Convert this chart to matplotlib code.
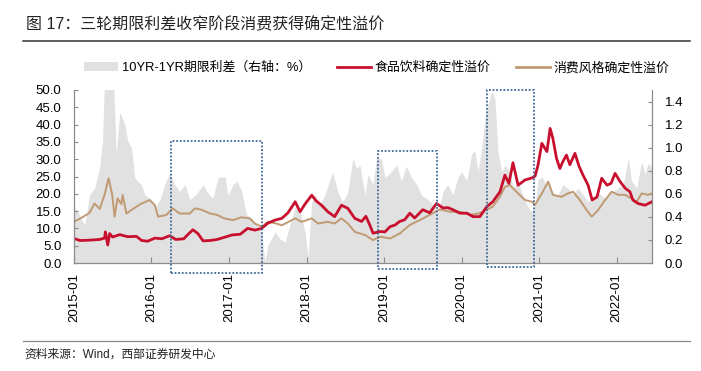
import numpy as np
import pandas as pd
import matplotlib
matplotlib.use("Agg")
import matplotlib.pyplot as plt
import matplotlib.dates as mdates
from matplotlib.patches import Patch, Rectangle
from matplotlib.lines import Line2D

plt.rcParams["font.family"] = ["Liberation Sans", "Noto Sans CJK SC"]

# ---------- dati ----------
title = "图 17：三轮期限利差收窄阶段消费获得确定性溢价"
source = "资料来源：Wind，西部证券研发中心"
lab_spread = "10YR-1YR期限利差（右轴：%）"
lab_food = "食品饮料确定性溢价"
lab_cons = "消费风格确定性溢价"

food_dates = ["2015-01-01","2015-01-29","2015-03-15","2015-05-02","2015-05-25","2015-05-29","2015-06-09",
    "2015-06-18","2015-07-02","2015-08-04","2015-09-11","2015-10-22","2015-11-16","2015-12-14",
    "2016-01-17","2016-02-19","2016-03-27","2016-04-24","2016-06-01","2016-06-25","2016-07-14",
    "2016-08-07","2016-08-31","2016-10-03","2016-11-05","2016-12-08",
    "2017-01-14","2017-02-22","2017-03-29","2017-05-02","2017-06-03","2017-07-02","2017-08-05",
    "2017-09-06","2017-10-05","2017-11-08","2017-12-01","2017-12-24",
    "2018-01-25","2018-02-14","2018-03-12","2018-04-11","2018-05-13","2018-06-14","2018-07-14",
    "2018-08-16","2018-09-17","2018-10-07","2018-10-26","2018-11-10","2018-12-12",
    "2019-01-05","2019-01-29","2019-02-22","2019-03-15","2019-04-08","2019-05-02","2019-05-25",
    "2019-07-02","2019-08-04","2019-09-05","2019-10-05","2019-10-28","2019-11-21","2019-12-24",
    "2020-01-26","2020-02-24","2020-03-27","2020-04-29","2020-05-27","2020-06-30","2020-07-23",
    "2020-08-11","2020-08-30","2020-09-23","2020-10-26","2020-11-28","2020-12-12","2020-12-26",
    "2021-01-13","2021-02-06","2021-02-21","2021-03-06","2021-03-23","2021-04-08","2021-04-22",
    "2021-05-09","2021-05-25","2021-06-18","2021-07-07","2021-07-26","2021-08-19","2021-09-07",
    "2021-09-30","2021-10-22","2021-11-16","2021-12-05","2021-12-24",
    "2022-01-17","2022-02-10","2022-03-04","2022-03-18","2022-04-11","2022-05-14","2022-06-16"]
food_vals = [7.1, 6.5, 6.6, 6.8, 7.2, 9.0, 5.2, 8.5, 7.5, 8.2, 7.6, 7.7, 6.5, 6.3,
    7.2, 7.0, 7.9, 6.8, 7.0, 8.5, 9.6, 8.5, 6.4, 6.5, 6.8, 7.4,
    8.1, 8.3, 10.0, 9.5, 10.0, 11.5, 12.4, 12.9, 14.5, 17.7, 14.8, 17.0,
    19.6, 18.0, 16.7, 14.8, 13.4, 16.7, 15.8, 12.9, 12.0, 13.5, 10.9, 8.6, 9.1,
    9.0, 10.5, 11.0, 12.0, 12.5, 14.4, 13.0, 15.4, 14.5, 17.2, 15.9, 16.0, 15.4, 14.4,
    14.4, 13.4, 13.4, 16.3, 17.7, 20.6, 25.4, 23.0, 29.0, 22.5, 24.0, 24.6, 25.1, 28.3,
    34.6, 32.2, 38.9, 36.0, 30.3, 27.3, 29.3, 31.2, 28.4, 31.7, 28.0, 25.4, 22.5, 18.2,
    19.1, 24.5, 22.5, 23.0, 25.9,
    23.5, 21.6, 20.6, 18.2, 17.2, 16.7, 17.7]

cons_dates = ["2015-01-01","2015-02-12","2015-03-15","2015-04-08","2015-05-02","2015-05-25","2015-06-13",
    "2015-06-30","2015-07-11","2015-07-25","2015-08-12","2015-08-18","2015-09-05","2015-10-05",
    "2015-11-15","2015-12-24","2016-01-17","2016-02-01","2016-03-11","2016-04-10","2016-05-13",
    "2016-06-30","2016-07-23","2016-08-24","2016-10-03","2016-11-05","2016-12-08",
    "2017-01-20","2017-02-26","2017-04-08","2017-05-02","2017-06-03","2017-07-02","2017-08-05",
    "2017-09-06","2017-10-05","2017-11-08","2017-12-09","2018-01-25","2018-02-24","2018-04-11",
    "2018-05-13","2018-06-14","2018-07-14","2018-08-16","2018-10-03","2018-11-10","2018-12-12",
    "2019-01-29","2019-03-15","2019-05-02","2019-06-18","2019-08-04","2019-09-20","2019-11-07",
    "2019-12-24","2020-02-10","2020-03-27","2020-04-29","2020-05-27","2020-06-30","2020-07-23",
    "2020-08-16","2020-09-23","2020-10-26","2020-11-28","2020-12-12","2021-01-13","2021-02-12",
    "2021-03-06","2021-04-16","2021-05-15","2021-06-09","2021-07-11","2021-08-12","2021-09-05",
    "2021-10-05","2021-11-07","2021-12-08","2022-01-08","2022-02-10","2022-03-12","2022-04-05",
    "2022-04-28","2022-05-28","2022-06-16"]
cons_vals = [11.9, 13.3, 14.5, 17.2, 15.6, 19.7, 24.5, 19.7, 13.4, 18.7, 17.0, 19.7, 14.3, 15.6,
    17.2, 18.2, 16.7, 13.4, 13.9, 15.8, 14.3, 14.3, 15.8, 15.4, 14.3, 13.9, 12.9,
    12.4, 13.2, 12.9, 11.4, 10.5, 11.9, 11.5, 10.9, 11.8, 12.9, 11.9, 12.9, 11.4, 11.9,
    11.4, 12.9, 11.4, 9.0, 8.1, 6.6, 7.6, 7.1, 8.5, 11.0, 12.4, 13.9, 15.5, 14.8,
    14.8, 13.9, 14.4, 15.4, 16.3, 19.2, 22.0, 22.5, 20.1, 18.2, 17.7, 16.8, 20.1, 23.5,
    19.7, 19.1, 20.1, 20.6, 18.2, 15.3, 13.4, 15.3, 18.2, 20.6, 19.7, 19.7, 18.6, 17.7,
    20.1, 19.7, 20.1]

spread_dates = ["2015-01-01","2015-01-19","2015-02-07","2015-02-21","2015-03-15","2015-04-08","2015-05-02",
    "2015-05-15","2015-05-25","2015-06-18","2015-07-06","2015-07-19","2015-08-04","2015-08-12",
    "2015-08-28","2015-09-11","2015-09-29","2015-10-14","2015-10-28","2015-11-15","2015-11-30",
    "2015-12-24","2016-01-17","2016-02-10","2016-03-03","2016-03-27","2016-04-20","2016-05-13",
    "2016-06-06","2016-06-30","2016-08-01","2016-08-31","2016-09-17","2016-10-16","2016-11-10",
    "2016-12-12","2016-12-26","2017-01-20","2017-02-06","2017-02-28","2017-03-23","2017-04-16",
    "2017-05-10","2017-06-03","2017-06-18","2017-07-02","2017-08-05","2017-08-28","2017-09-21",
    "2017-10-14","2017-11-08","2017-12-01","2017-12-24","2018-01-08","2018-01-25","2018-02-10",
    "2018-03-04","2018-03-27","2018-04-20","2018-05-04","2018-05-27","2018-06-20","2018-07-14",
    "2018-08-07","2018-08-24","2018-09-09","2018-10-03","2018-10-17","2018-11-10","2018-11-27",
    "2018-12-20","2019-01-05","2019-01-29","2019-03-01","2019-03-23","2019-04-16","2019-05-10",
    "2019-06-03","2019-06-26","2019-07-19","2019-08-13","2019-08-28","2019-09-11","2019-10-05",
    "2019-10-28","2019-11-21","2019-12-14","2020-01-02","2020-01-25","2020-02-18","2020-03-04",
    "2020-03-18","2020-04-05","2020-04-20","2020-05-04","2020-05-21","2020-06-06","2020-06-20",
    "2020-07-08","2020-07-23","2020-08-16","2020-08-30","2020-09-23","2020-10-16","2020-11-10",
    "2020-11-27","2020-12-12","2020-12-26","2021-01-13","2021-01-29","2021-02-12","2021-03-06",
    "2021-03-30","2021-04-22","2021-05-15","2021-06-09","2021-07-02","2021-07-26","2021-08-19",
    "2021-09-12","2021-10-05","2021-11-07","2021-12-08","2022-01-08","2022-02-01","2022-02-24",
    "2022-03-12","2022-04-05","2022-04-28","2022-05-14","2022-05-28","2022-06-16"]
spread_vals = [0.48, 0.45, 0.37, 0.33, 0.59, 0.65, 0.83, 1.05, 1.60, 1.65, 1.60, 0.94, 1.30, 1.28,
    1.20, 1.06, 1.00, 0.74, 0.71, 0.68, 0.59, 0.56, 0.48, 0.55, 0.68, 0.78, 0.68, 0.62,
    0.68, 0.55, 0.60, 0.68, 0.62, 0.56, 0.74, 0.75, 0.59, 0.68, 0.71, 0.63, 0.42, 0.39,
    0.33, 0.27, 0.01, 0.15, 0.27, 0.21, 0.18, 0.33, 0.48, 0.45, 0.27, 0.05, 0.53, 0.59,
    0.50, 0.59, 0.72, 0.79, 0.62, 0.53, 0.61, 0.91, 0.82, 0.85, 0.59, 0.77, 0.68, 0.92,
    0.90, 0.74, 0.78, 0.85, 0.71, 0.84, 0.74, 0.68, 0.59, 0.56, 0.52, 0.48, 0.43, 0.62,
    0.68, 0.59, 0.74, 0.79, 0.71, 0.95, 0.97, 0.79, 1.00, 1.26, 1.37, 1.49, 1.43, 0.97,
    0.79, 0.85, 0.79, 0.65, 0.70, 0.58, 0.48, 0.45, 0.50, 0.72, 0.75, 0.69, 0.72, 0.61,
    0.59, 0.68, 0.65, 0.59, 0.65, 0.59, 0.53, 0.56, 0.61, 0.56, 0.61, 0.65, 0.68, 0.91,
    0.71, 0.65, 0.88, 0.77, 0.86, 0.83]

# tre fasi di restringimento dello spread (riquadri tratteggiati)
box_start = ["2016-04-01", "2018-12-03", "2020-04-29"]
box_end = ["2017-06-04", "2019-09-06", "2020-12-08"]
box_low = [-2.9, -1.7, -1.2]
box_high = [35.3, 32.4, 50.0]

RED = "#C8102E"; TAN = "#BF9A73"; GREY = "#E1E1E1"; BOX = "#3F6A97"; AX = "#8C8C8C"

fig = plt.figure(figsize=(7.01, 3.71), dpi=100)
ax = fig.add_axes([74/701, 1-263/371, (652-74)/701, (263-90)/371])
ax2 = ax.twinx()

ax2.fill_between(pd.to_datetime(spread_dates), spread_vals, 0, color=GREY, lw=0)
ax2.set_ylim(0, 1.5)
ax2.set_yticks(np.arange(0, 1.41, 0.2))
ax2.yaxis.set_major_formatter(matplotlib.ticker.FormatStrFormatter("%.1f"))

ax.set_zorder(ax2.get_zorder()+1); ax.patch.set_visible(False)
ax.plot(pd.to_datetime(cons_dates), cons_vals, color=TAN, lw=1.4)
ax.plot(pd.to_datetime(food_dates), food_vals, color=RED, lw=2.0)
ax.set_ylim(0, 50)
ax.set_yticks(np.arange(0, 50.1, 5))
ax.yaxis.set_major_formatter(matplotlib.ticker.FormatStrFormatter("%.1f"))
ax.set_xlim(pd.Timestamp("2015-01-01"), pd.Timestamp("2022-06-16"))
ax.xaxis.set_major_locator(mdates.YearLocator())
ax.xaxis.set_major_formatter(mdates.DateFormatter("%Y-%m"))

for s0, s1, lo, hi in zip(box_start, box_end, box_low, box_high):
    x0 = mdates.date2num(pd.Timestamp(s0)); x1 = mdates.date2num(pd.Timestamp(s1))
    ax.add_patch(Rectangle((x0, lo), x1-x0, hi-lo, fill=False, ec=BOX, lw=1.3,
                           ls=(0, (1, 1)), clip_on=False, zorder=5))

for a in (ax, ax2):
    for sp in a.spines.values():
        sp.set_color(AX); sp.set_linewidth(0.9)
    a.spines["top"].set_visible(False)
ax.spines["right"].set_visible(False)
ax2.spines["left"].set_visible(False); ax2.spines["bottom"].set_visible(False)
ax.tick_params(axis="y", direction="in", length=3, color=AX, labelsize=9.5, pad=9)
ax.tick_params(axis="x", direction="in", length=4, color=AX, labelsize=9.5, pad=7, labelrotation=90)
ax2.tick_params(axis="y", direction="in", length=3, color=AX, labelsize=9.5, pad=9)

handles = [Patch(color=GREY, lw=0), Line2D([], [], color=RED, lw=2), Line2D([], [], color=TAN, lw=2)]
fig.legend(handles, [lab_spread, lab_food, lab_cons], loc="center", ncol=3, frameon=False,
           bbox_to_anchor=(377/701, 1-68/371), fontsize=9.3, handlelength=2.6, handleheight=0.65,
           handletextpad=0.3, columnspacing=2.0)

fig.text(26/701, 1-25/371, title, fontsize=11.5, va="center", ha="left", color="#222222")
fig.add_artist(Line2D([23/701, 690/701], [1-40.5/371]*2, color="#333333", lw=1.1))
fig.add_artist(Line2D([23/701, 690/701], [1-341/371]*2, color="#888888", lw=0.9))
fig.text(24/701, 1-355/371, source, fontsize=8.5, va="center", ha="left", color="#222222")

fig.savefig("out.png", dpi=100)
